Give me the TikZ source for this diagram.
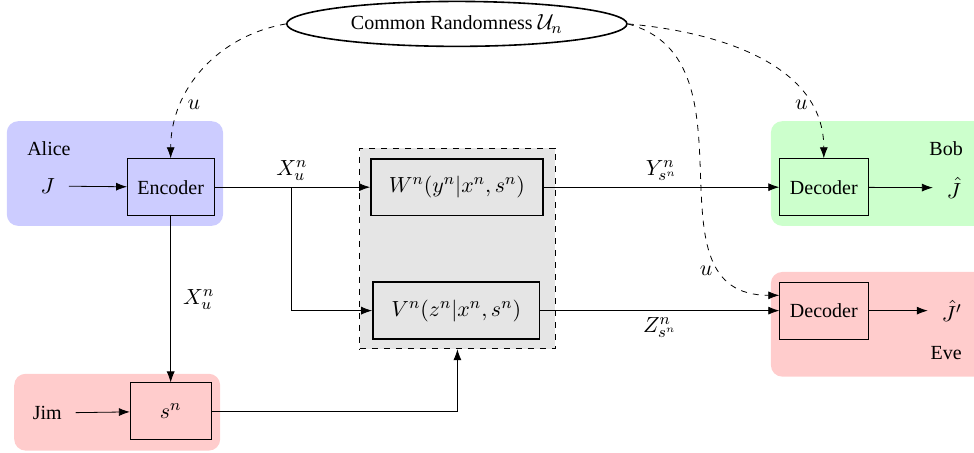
\documentclass[tikz,border=0pt]{standalone}
\usepackage{fontspec}
\setmainfont{Liberation Serif}[Scale=0.91]
\usetikzlibrary{shapes.geometric,arrows.meta}

\tikzset{
  blk/.style={draw, minimum width=1.52cm, minimum height=1cm},
  chanblk/.style={draw, thick, minimum height=1cm},
  term/.style={outer sep=4pt},
  rnd/.style={dashed, ->},
}

\begin{document}
\begin{tikzpicture}[>={Latex[length=5.5pt,width=4pt]}, font=\fontsize{11pt}{13pt}\selectfont]
			%%%%% START %%%%%
			\useasboundingbox (0, 0) rectangle (17.12, 7.96);
			
			% parties
			\fill[blue!20, rounded corners=0.2cm] (0.12, 3.99) rectangle (3.92, 5.83);
			\fill[red!20, rounded corners=0.2cm] (0.25, 0.04) rectangle (3.87, 1.39);
			\fill[green!20, rounded corners=0.2cm] (13.55, 3.99) rectangle (17.5, 5.83);
			\fill[red!20, rounded corners=0.2cm] (13.55, 1.34) rectangle (17.5, 3.18);
			
			\node (alice) at (0.86, 5.34) {Alice};
			\node (bob) at (16.63, 5.34) {Bob};
			\node (eve) at (16.63, 1.76) {Eve};
			
			% channel
			\node[draw, dashed, fill=gray!20, minimum width=3.43cm, minimum height=3.53cm] (chan) at (8.04, 3.595) {};
			\node[chanblk, minimum width=3.02cm] (W) at (8.03, 4.67) {$W^n(y^n|x^n,s^n)$};
			\node[chanblk, minimum width=2.93cm] (V) at (8.02, 2.50) {$V^n(z^n|x^n,s^n)$};
			
			% boxes
			\node[blk] (enc) at (3.0, 4.67) {Encoder};
			\node[blk, minimum width=1.42cm] (sn) at (3.0, 0.73) {$s^n$};
			\node[blk, minimum width=1.55cm] (decB) at (14.48, 4.67) {Decoder};
			\node[blk, minimum width=1.55cm] (decE) at (14.48, 2.50) {Decoder};
			
			\node[term] (J) at (0.84, 4.69) {$J$};
			\node[term] (jim) at (0.83, 0.70) {Jim};
			\node[term] (Jb) at (16.77, 4.66) {$\hat{J}$};
			\node[term] (Je) at (16.73, 2.50) {$\hat{J}'$};
			
			\node[draw, thick, ellipse, minimum width=5.98cm, minimum height=0.79cm] (cr) at (8.03, 7.54) {Common Randomness $\mathcal{U}_n$};
			
			% links
			\coordinate (br) at (5.13, 4.67);
			\draw[->] (J) -- (enc);
			\draw[->] (jim) -- (sn);
			\draw (enc.east) -- (br) node[above] {$X_u^n$};
			\draw[->] (br) -- (W.west);
			\draw[->] (br) |- (V.west);
			\draw[->] (enc.south) -- node[right=3pt] {$X_u^n$} (sn.north);
			\draw[->] (sn.east) -| (chan.south);
			\draw[->] (W.east) -- node[above] {$Y^n_{s^n}$} (decB.west);
			\draw[->] (V.east) -- node[below] {$Z^n_{s^n}$} (decE.west);
			\draw[->] (decB) -- (Jb);
			\draw[->] (decE) -- (Je);
			
			% common randomness
			\draw[rnd] (cr.west) to[out=190, in=90] node[pos=0.72, right] {$u$} (enc.north);
			\draw[rnd] (cr.east) to[out=-5, in=90] node[pos=0.78, left, xshift=2pt] {$u$} (decB.north);
			\draw[rnd] (cr.east) to[out=-15, in=180, looseness=1.15] node[pos=0.8, left, xshift=-2pt] {$u$} (decE.161);
			
			%%%%% END %%%%%
\end{tikzpicture}
\end{document}
